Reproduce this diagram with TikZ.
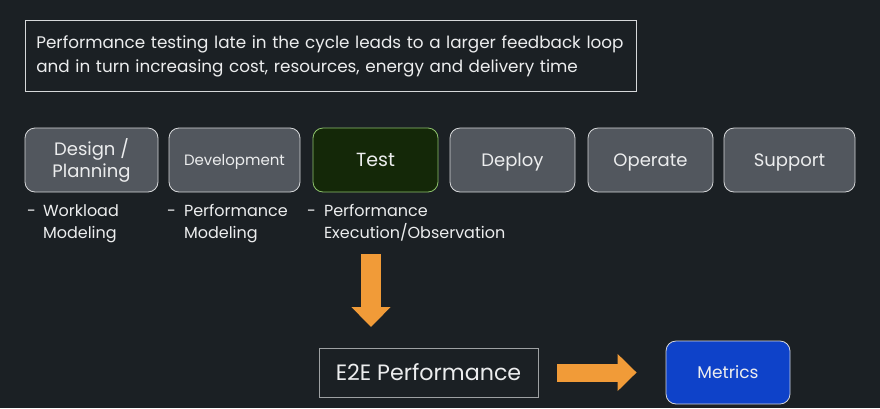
\documentclass[tikz,border=0pt]{standalone}
\usepackage{fontspec}
\setmainfont{Poppins}
\usetikzlibrary{arrows.meta,positioning}
\definecolor{bgdark}{HTML}{1B2024}
\definecolor{boxgray}{HTML}{52575E}
\definecolor{lineclr}{HTML}{D6D8DA}
\definecolor{testfill}{HTML}{142808}
\definecolor{testline}{HTML}{8DC26B}
\definecolor{metricblue}{HTML}{0E42C9}
\definecolor{arroworange}{HTML}{F19B38}
\definecolor{txt}{HTML}{ECEDEE}

\begin{document}
\begin{tikzpicture}[x=1pt,y=-1pt,
  every node/.style={text=txt},
  stage/.style={draw=lineclr,fill=boxgray,rounded corners=10pt,line width=.8pt,
    minimum height=64pt,align=center,text depth=0pt,font=\fontsize{18}{22}\selectfont},
  note/.style={anchor=north west,inner sep=0pt,font=\fontsize{16}{22}\selectfont},
  fatarrow/.style={draw=arroworange,line width=20pt,
    -{Triangle[width=38pt,length=20pt]}}]
\fill[bgdark] (0,0) rectangle (880,408);
\useasboundingbox (0,0) rectangle (880,408);
% intro text
\node[draw=lineclr,line width=.7pt,align=left,anchor=north west,inner xsep=11pt,
  text width=589pt,minimum height=71pt,font=\fontsize{16.8}{24}\selectfont] (intro) at (25,20)
  {\mbox{Performance testing late in the cycle leads to a larger feedback loop}\\
   \mbox{and in turn increasing cost, resources, energy and delivery time}};
% lifecycle stages
\node[stage,minimum width=133pt,text depth=] (design) at (91.5,160) {Design /\\Planning};
\node[stage,minimum width=131pt,font=\fontsize{15}{17}\selectfont] (develop) at (234.5,160) {Development};
\node[stage,minimum width=125pt,fill=testfill,draw=testline,font=\fontsize{19}{22}\selectfont] (test) at (375.5,160) {Test};
\node[stage,minimum width=125pt] (deploy) at (512.5,160) {Deploy};
\node[stage,minimum width=125pt] (operate) at (650.5,160) {Operate};
\node[stage,minimum width=131pt] (support) at (789.5,160) {Support};
% notes under stages
\node[note] (designnote) at (27,201)
  {\begin{tabular}{@{}l@{\hspace{7pt}}l@{}}-&Workload\\&Modeling\end{tabular}};
\node[note] (developnote) at (167,201)
  {\begin{tabular}{@{}l@{\hspace{8pt}}l@{}}-&Performance\\&Modeling\end{tabular}};
\node[note] (testnote) at (307,201)
  {\begin{tabular}{@{}l@{\hspace{8pt}}l@{}}-&Performance\\&Execution/Observation\end{tabular}};
% results
\node[draw=lineclr!70!bgdark,line width=.8pt,minimum width=219pt,minimum height=49pt,
  font=\fontsize{22.2}{24}\selectfont] (e2e) at (428.5,372.5) {E2E Performance};
\node[stage,minimum width=124pt,minimum height=63pt,fill=metricblue,
  font=\fontsize{17}{20}\selectfont] (metrics) at (728,372.5) {Metrics};
\coordinate (dnstart) at (371,254);
\coordinate (dnend) at (371,327);
\draw[fatarrow] (dnstart) -- (dnend);
\draw[fatarrow,line width=18pt,-{Triangle[width=36pt,length=19pt]},
  shorten <=19pt,shorten >=29pt] (e2e.east) -- (metrics.west);
\end{tikzpicture}
\end{document}
